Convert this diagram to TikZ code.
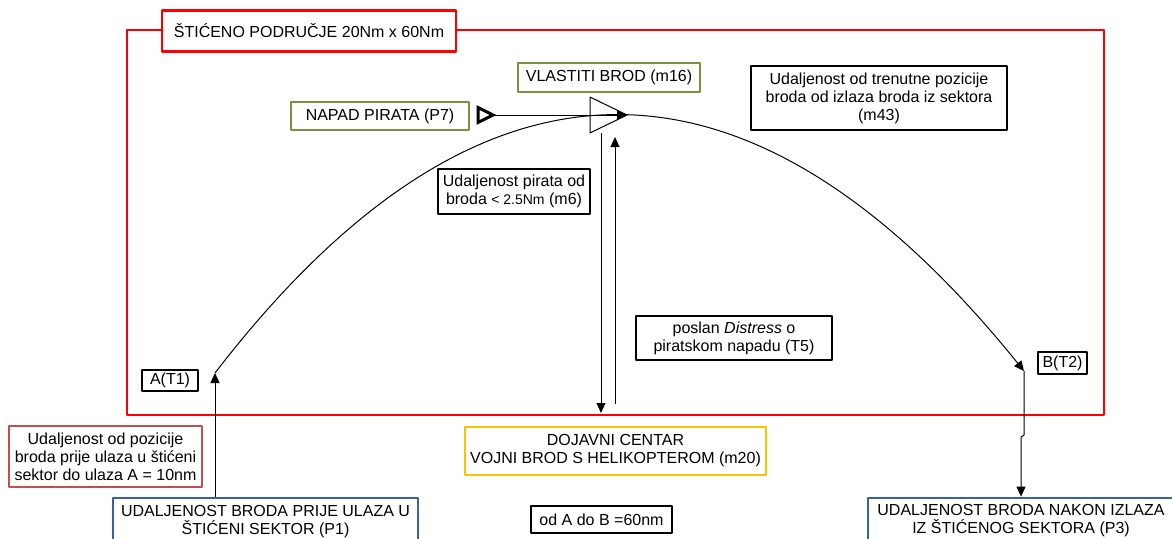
\documentclass[tikz,border=0pt]{standalone}
\usepackage{fontspec}
\setmainfont{Liberation Sans}
\usetikzlibrary{arrows.meta}
\usetikzlibrary{calc}
\usetikzlibrary{positioning}
\definecolor{ZoneRed}{RGB}{255,0,0}
\definecolor{ShipGreen}{RGB}{119,147,60}
\definecolor{CentreYellow}{RGB}{255,192,0}
\definecolor{RouteBlue}{RGB}{54,99,165}
\definecolor{NoteRed}{RGB}{192,80,77}
\tikzset{
	>={Triangle[length=5pt,width=4.5pt]},
	arw/.style={black, line width=0.5pt, ->},
	plain/.style={black, line width=0.5pt},
	zone/.style={ZoneRed, line width=1.4pt},
	box/.style={draw=black, line width=0.6pt, fill=white, align=center,
		inner sep=1pt, font=\fontsize{8}{9}\selectfont},
	greenbox/.style={box, draw=ShipGreen, line width=1.4pt},
	bluebox/.style={box, draw=RouteBlue, line width=1.4pt},
	yellowbox/.style={box, draw=CentreYellow, line width=1.4pt},
	notebox/.style={box, draw=NoteRed, line width=1.4pt},
	titlebox/.style={box, draw=ZoneRed, line width=1.4pt},
	pirate/.style={black, line width=1.5pt, line join=miter},
}

\begin{document}
\begin{tikzpicture}[x=0.5pt, y=-0.5pt, line cap=butt, line join=round]
		
		\useasboundingbox (0,0) rectangle (1172,538);
		
		% --- protected zone ---
		\draw[zone] (127,30) rectangle (1104,415);
		\node[titlebox, minimum width=147pt, minimum height=20.5pt] (title) at (309,31)
		{ŠTIĆENO PODRUČJE 20Nm x 60Nm};
		
		% --- route points ---
		\coordinate (ptA) at (215,373);
		\coordinate (ptB) at (1024,371);
		\node[box, minimum width=28pt, minimum height=10.5pt] (aT1) at (170,380.5) {A(T1)};
		\node[box, minimum width=24.5pt, minimum height=11pt] (bT2) at (1062.5,363) {B(T2)};
		
		% ship route (parabola A -> B)
		\draw[arw] (ptA) .. controls (479,30) and (749,30) .. (ptB);
		
		% --- own ship and pirate ---
		\draw[plain] (590,97) -- (627,115) -- (590,133) -- cycle;
		\coordinate (shipTip) at (627,115);
		\draw[pirate] (478,107.5) -- (493,115) -- (478,122.5) -- cycle;
		\coordinate (pirTip) at (494,115);
		\draw[arw] (pirTip) -- (shipTip);
		
		\node[greenbox, minimum width=91pt, minimum height=14.5pt] (ownShip) at (609,77.5)
		{VLASTITI BROD (m16)};
		\node[greenbox, minimum width=89pt, minimum height=14pt] (attack) at (380,116)
		{NAPAD PIRATA (P7)};
		
		% --- distance boxes ---
		\node[box, minimum width=76pt, minimum height=22.5pt] (m6) at (514,191.5)
		{Udaljenost pirata od\\broda {\fontsize{7}{9}\selectfont< 2.5Nm} (m6)};
		\node[box, minimum width=128pt, minimum height=32pt] (m43) at (879,98)
		{Udaljenost od trenutne pozicije\\broda od izlaza broda iz sektora\\(m43)};
		\node[box, minimum width=98pt, minimum height=22pt] (t5) at (734,338)
		{poslan \textit{Distress} o\\piratskom napadu (T5)};
		
		% --- distress call down, response up ---
		\coordinate (dTop) at (601,133);
		\coordinate (dBot) at (601,413);
		\coordinate (uBot) at (615,404);
		\coordinate (uTop) at (615,137);
		\draw[arw] (dTop) -- (dBot);
		\draw[arw] (uBot) -- (uTop);
		
		% --- outside the zone ---
		\node[yellowbox, minimum width=150.5pt, minimum height=24pt] (centre) at (615.5,451)
		{DOJAVNI CENTAR\\VOJNI BROD S HELIKOPTEROM (m20)};
		\node[notebox, minimum width=96.5pt, minimum height=30.5pt] (before) at (105.5,456.5)
		{Udaljenost od pozicije\\broda prije ulaza u štićeni\\sektor do ulaza A = 10nm};
		\node[box, minimum width=70.5pt, minimum height=13.5pt] (total) at (601.5,519.5)
		{od A do B =60nm};
		
		\node[bluebox, minimum width=152.5pt, minimum height=23.5pt] (p1) at (265.5,521.5)
		{UDALJENOST BRODA PRIJE ULAZA U\\ŠTIĆENI SEKTOR (P1)};
		\node[bluebox, minimum width=153pt, minimum height=23pt] (p3) at (1021,521)
		{UDALJENOST BRODA NAKON IZLAZA\\IZ ŠTIĆENOG SEKTORA (P3)};
		
		% entry and exit
		\draw[arw] (p1.north -| ptA) -- (ptA);
		\draw[arw] (ptB) -- ++(0,64) -- ++(-3,2) -- (p3.north);
		
	\end{tikzpicture}
\end{document}
